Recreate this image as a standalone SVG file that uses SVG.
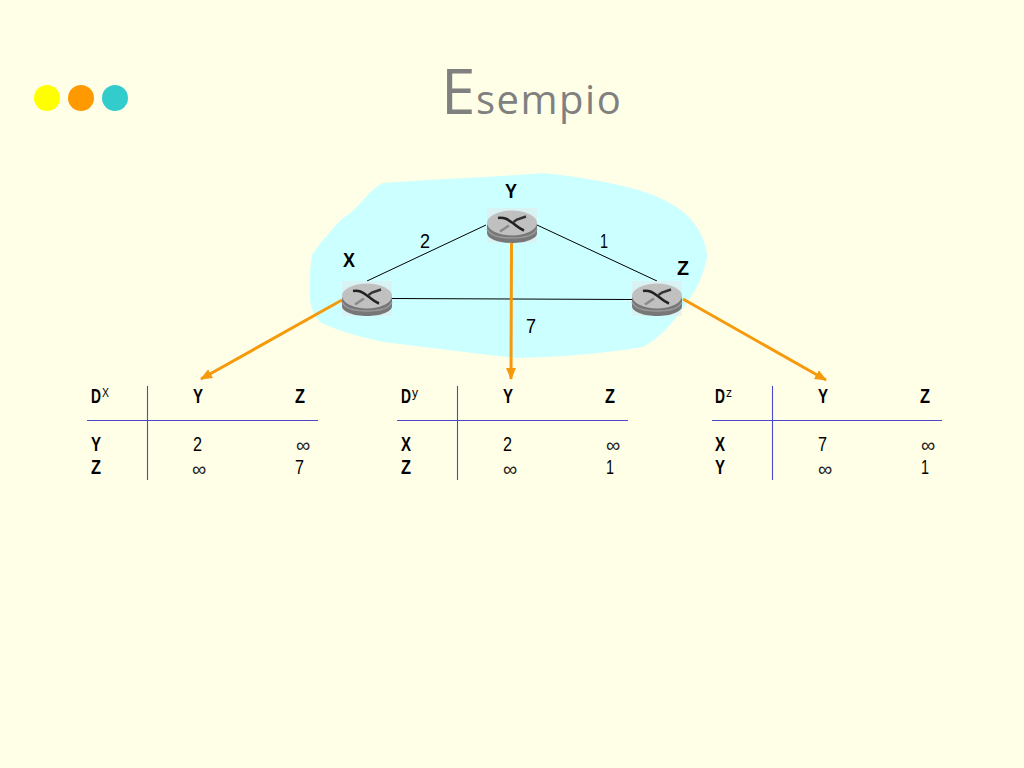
<svg xmlns="http://www.w3.org/2000/svg" width="1024" height="768" viewBox="0 0 1024 768">
<style>
text{font-family:"Liberation Sans",Arial,sans-serif;fill:#000;}
.b{font-size:20px;font-weight:bold}
.n{font-size:20px}
.s{font-size:12px}
.inf{font-size:20px;fill:#222}
.rule{stroke:#4a4ac8;stroke-width:1.100;fill:none}
.link{stroke:#000;stroke-width:1;fill:none}
.arrow{stroke:#f59a0c;stroke-width:3;fill:none;marker-end:url(#ah)}
</style>
<defs>
<marker id="ah" markerUnits="userSpaceOnUse" markerWidth="12" markerHeight="10" refX="11" refY="5" orient="auto"><path d="M0 0L12 5L0 10Z" fill="#f59a0c"/></marker>
<symbol id="router" overflow="visible">
<rect x="-25" y="-17" width="50" height="35" fill="#e4e8ea" opacity=".55"/>
<path d="M-25 -1V8C-25 14-13 18 0 18S25 14 25 8V-1Z" fill="#777"/>
<path d="M-25 4C-22 11-12 13 0 13S22 11 25 4" stroke="#9a9a9a" stroke-width="1.500" fill="none"/>
<ellipse cx="0" cy="-2" rx="25" ry="12.500" fill="#c0c0c0"/>
<path d="M-14 -7C-8 -8-5 -6 0 -2.500S6 3 12 5.500" stroke="#222" stroke-width="2.600" fill="none"/>
<path d="M14 -8.500L5 -5.500L1.500 -3" stroke="#333" stroke-width="2.400" fill="none"/>
<path d="M-12 6.500L-3 0.500" stroke="#8a8a8a" stroke-width="2.600" fill="none"/>
</symbol>
</defs>
<rect id="background" width="1024" height="768" fill="#ffffe8"/>
<g id="bullets"><ellipse cx="47" cy="98" rx="13" ry="13" fill="#ffff00"/><ellipse cx="81" cy="98" rx="13" ry="13" fill="#ff9900"/><ellipse cx="115" cy="98" rx="13" ry="13" fill="#33cccc"/></g>
<text id="title" x="441" y="114" style="font-family:'Open Sans','Liberation Sans',sans-serif;fill:#808080"><tspan font-size="62">E</tspan><tspan x="476" font-size="40" letter-spacing="1.500">sempio</tspan></text>
<path id="cloud" fill="#ccffff" d="M383 183C430 179 500 177 543 173C590 178 630 186 653 195C672 203 685 211 693 222C702 234 707 246 707 258C703 275 698 287 690 298C677 318 662 337 643 347C600 354 560 357 517 358C470 353 425 347 383 342C360 337 338 331 320 322C312 312 310 304 310 298C309 282 310 268 312 255C322 240 333 228 343 218C358 210 368 190 383 183Z"/>
<g id="connectors">
<path class="link" d="M367 281L486 225"/>
<path class="link" d="M537 225L657 281"/>
<path class="link" d="M392 298.500L632 299.500"/>
<path class="arrow" d="M342 300L201 379"/>
<path class="arrow" d="M511.500 243L511 379"/>
<path class="arrow" d="M683 299L826 380"/>
</g>
<g id="node-x"><use href="#router" x="367" y="298"/><text class="b" x="343" y="267" textLength="12" lengthAdjust="spacingAndGlyphs">X</text></g>
<g id="node-y"><use href="#router" x="512" y="225"/><text class="b" x="505" y="198" textLength="12" lengthAdjust="spacingAndGlyphs">Y</text></g>
<g id="node-z"><use href="#router" x="657" y="298"/><text class="b" x="677" y="275" textLength="12" lengthAdjust="spacingAndGlyphs">Z</text></g>
<g id="link-labels"><text class="n" x="420" y="248" textLength="10" lengthAdjust="spacingAndGlyphs">2</text><text class="n" x="600" y="248" textLength="8" lengthAdjust="spacingAndGlyphs">1</text><text class="n" x="526" y="333" textLength="10" lengthAdjust="spacingAndGlyphs">7</text></g>
<g id="table-x">
<path class="rule" d="M87 420.500H318M147.500 386V480"/>
<text class="b" x="91" y="403" textLength="10" lengthAdjust="spacingAndGlyphs">D</text><text class="s" x="102" y="397" textLength="7" lengthAdjust="spacingAndGlyphs">X</text><text class="b" x="193" y="403" textLength="10" lengthAdjust="spacingAndGlyphs">Y</text><text class="b" x="295" y="403" textLength="10" lengthAdjust="spacingAndGlyphs">Z</text>
<text class="b" x="91" y="451" textLength="10" lengthAdjust="spacingAndGlyphs">Y</text><text class="n" x="193" y="451" textLength="9" lengthAdjust="spacingAndGlyphs">2</text><text class="inf" x="296" y="452">∞</text>
<text class="b" x="91" y="474" textLength="10" lengthAdjust="spacingAndGlyphs">Z</text><text class="inf" x="192" y="476">∞</text><text class="n" x="295" y="474" textLength="9" lengthAdjust="spacingAndGlyphs">7</text>
</g>
<g id="table-y">
<path class="rule" d="M397 420.500H628M457.500 386V480"/>
<text class="b" x="401" y="403" textLength="10" lengthAdjust="spacingAndGlyphs">D</text><text class="s" x="412" y="397" textLength="6" lengthAdjust="spacingAndGlyphs">y</text><text class="b" x="503" y="403" textLength="10" lengthAdjust="spacingAndGlyphs">Y</text><text class="b" x="605" y="403" textLength="10" lengthAdjust="spacingAndGlyphs">Z</text>
<text class="b" x="401" y="451" textLength="10" lengthAdjust="spacingAndGlyphs">X</text><text class="n" x="503" y="451" textLength="9" lengthAdjust="spacingAndGlyphs">2</text><text class="inf" x="606" y="452">∞</text>
<text class="b" x="401" y="474" textLength="10" lengthAdjust="spacingAndGlyphs">Z</text><text class="inf" x="503" y="476">∞</text><text class="n" x="606" y="474" textLength="8" lengthAdjust="spacingAndGlyphs">1</text>
</g>
<g id="table-z">
<path class="rule" d="M712 420.500H942M772.500 386V480"/>
<text class="b" x="715" y="403" textLength="10" lengthAdjust="spacingAndGlyphs">D</text><text class="s" x="726" y="397" textLength="6" lengthAdjust="spacingAndGlyphs">z</text><text class="b" x="818" y="403" textLength="10" lengthAdjust="spacingAndGlyphs">Y</text><text class="b" x="920" y="403" textLength="10" lengthAdjust="spacingAndGlyphs">Z</text>
<text class="b" x="715" y="451" textLength="10" lengthAdjust="spacingAndGlyphs">X</text><text class="n" x="818" y="451" textLength="9" lengthAdjust="spacingAndGlyphs">7</text><text class="inf" x="921" y="452">∞</text>
<text class="b" x="715" y="474" textLength="10" lengthAdjust="spacingAndGlyphs">Y</text><text class="inf" x="818" y="476">∞</text><text class="n" x="921" y="474" textLength="8" lengthAdjust="spacingAndGlyphs">1</text>
</g>
</svg>
